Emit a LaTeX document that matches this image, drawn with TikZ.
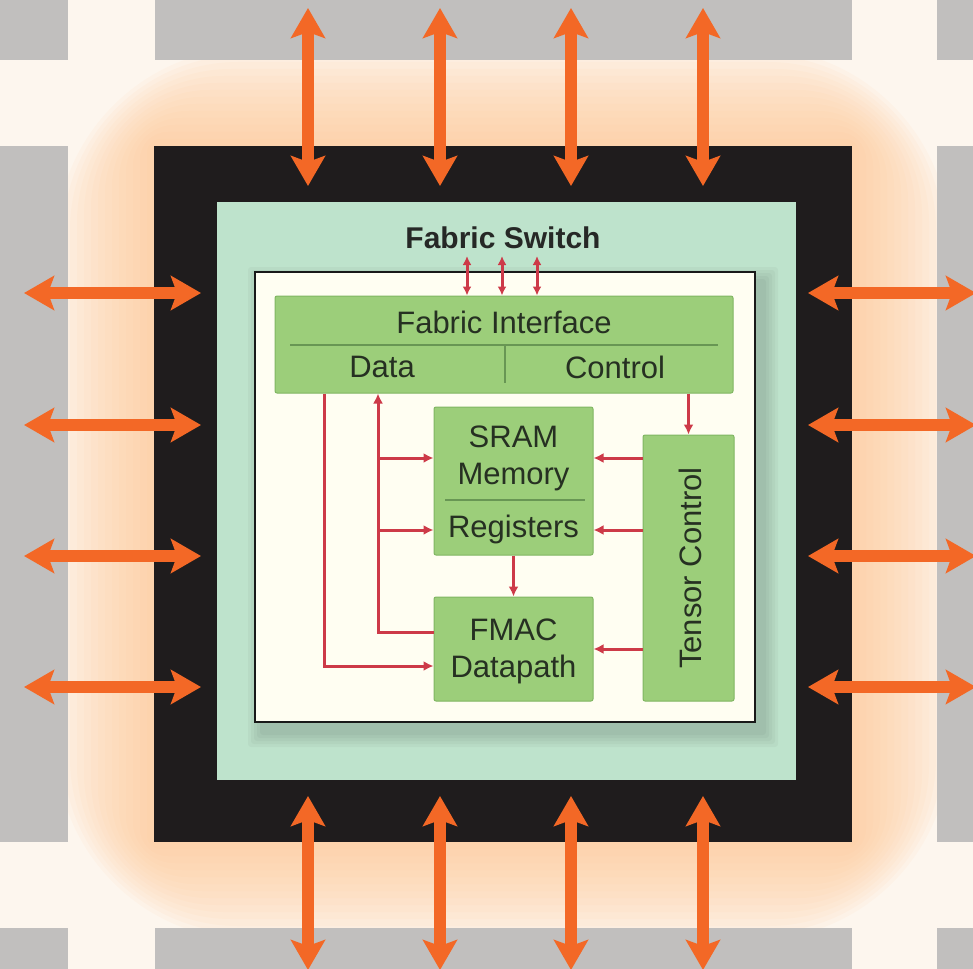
\documentclass[tikz,border=0pt]{standalone}
\usepackage{fontspec}
\setmainfont{Liberation Sans}
\usetikzlibrary{arrows.meta,calc}
\definecolor{bgcream}{RGB}{253,246,238}
\definecolor{glowc}{RGB}{255,200,145}
\definecolor{tilegray}{RGB}{193,191,190}
\definecolor{chipblack}{RGB}{31,28,29}
\definecolor{mint}{RGB}{190,227,204}
\definecolor{panelc}{RGB}{255,254,242}
\definecolor{gfill}{RGB}{156,206,122}
\definecolor{gline}{RGB}{128,182,98}
\definecolor{sepline}{RGB}{104,150,84}
\definecolor{txtc}{RGB}{38,48,34}
\definecolor{redc}{RGB}{205,58,72}
\definecolor{orangec}{RGB}{243,104,38}
\begin{document}
\begin{tikzpicture}[x=1pt,y=-1pt,
  tile/.style={fill=tilegray, draw=none},
  gbox/.style={draw=gline, line width=1pt, fill=gfill, rounded corners=2pt, inner sep=0pt},
  lbl/.style={text=txtc, font=\fontsize{31}{37}\selectfont, inner sep=0pt, align=center},
  rl/.style={draw=redc, line width=3pt, -{Latex[length=10pt,width=10pt]}},
  rlb/.style={draw=redc, line width=3pt, {Latex[length=9pt,width=9pt]}-{Latex[length=9pt,width=9pt]}},
  oarr/.style={draw=orangec, line width=12pt, {Stealth[length=30pt,width=34pt,inset=6pt]}-{Stealth[length=30pt,width=34pt,inset=6pt]}},
  sep/.style={draw=sepline, line width=1.3pt}
]
\useasboundingbox (0,0) rectangle (973,968);
\clip (0,0) rectangle (973,968);
% background
\fill[bgcream] (-5,-5) rectangle (980,975);
% glow
\foreach \i [evaluate=\i as \rr using 14*\i] in {1,...,14}
  \fill[glowc, opacity=0.075, rounded corners=\rr pt] (154-7*\i,146-7*\i) rectangle (852+7*\i,842+7*\i);
% tiles
\fill[tile] (-10,-10) rectangle (68,60);
\fill[tile] (155,-10) rectangle (852,60);
\fill[tile] (937,-10) rectangle (985,60);
\fill[tile] (-10,146) rectangle (68,842);
\fill[tile] (937,146) rectangle (985,842);
\fill[tile] (-10,928) rectangle (68,985);
\fill[tile] (155,928) rectangle (852,985);
\fill[tile] (937,928) rectangle (985,985);
% chip
\node[fill=chipblack, draw=none, inner sep=0pt, minimum width=698pt, minimum height=696pt] (chip) at (503,494) {};
% orange arrows
\foreach \x [count=\k] in {308,440,571,703} {
  \coordinate (tt\k) at (\x,8);
  \coordinate (tb\k) at (\x,186);
  \draw[oarr] (tt\k) -- (tb\k);
  \coordinate (bt\k) at (\x,796);
  \coordinate (bb\k) at (\x,970);
  \draw[oarr] (bt\k) -- (bb\k);
}
\foreach \y [count=\k] in {293,425,556,687} {
  \coordinate (ll\k) at (24,\y);
  \coordinate (lr\k) at (201,\y);
  \draw[oarr] (ll\k) -- (lr\k);
  \coordinate (rl\k) at (808,\y);
  \coordinate (rr\k) at (976,\y);
  \draw[oarr] (rl\k) -- (rr\k);
}
% switch region
\node[fill=mint, draw=none, inner sep=0pt, minimum width=579pt, minimum height=578pt] (switch) at (506.5,491) {};
\node[font=\bfseries\fontsize{30}{36}\selectfont, text={rgb,255:red,38;green,40;blue,38}, inner sep=0pt] (fslbl) at (503,238) {Fabric Switch};
% panel shadow
\foreach \i in {1,...,5}
  \fill[black, opacity=0.03, rounded corners=3pt] (255+8-3*\i,272+10-3*\i) rectangle (755+8+3*\i,722+10+3*\i);
\node[draw={rgb,255:red,25;green,25;blue,25}, line width=2.5pt, fill=panelc, inner sep=0pt, minimum width=500pt, minimum height=450pt] (panel) at (505,497) {};
% fabric interface
\node[gbox, minimum width=458pt, minimum height=97pt] (fi) at (504,344.5) {};
\draw[sep] (290,345) -- (718,345);
\draw[sep] (505,345) -- (505,383);
\node[lbl] (fitxt) at (504,322) {Fabric Interface};
\node[lbl] (data) at (382,367) {Data};
\node[lbl] (ctrl) at (615,367) {Control};
% SRAM / registers
\node[gbox, minimum width=159pt, minimum height=148pt] (sram) at (513.5,481) {};
\draw[sep] (445,500) -- (585,500);
\node[lbl] (sramtxt) at (513.5,458) {SRAM\\Memory};
\node[lbl] (regtxt) at (513.5,529) {Registers};
% FMAC
\node[gbox, minimum width=159pt, minimum height=104pt] (fmac) at (513.5,649) {};
\node[lbl] (fmactxt) at (513.5,651) {FMAC\\Datapath};
% Tensor control
\node[gbox, minimum width=91pt, minimum height=266pt] (tc) at (688.5,568) {};
\node[lbl, rotate=90] (tctxt) at (690,568) {Tensor Control};
% helper coordinates
\coordinate (xa) at (324,0);
\coordinate (xb) at (378,0);
\coordinate (r1) at (0,458);
\coordinate (r2) at (0,530);
\coordinate (r3) at (0,666);
\coordinate (r4) at (0,632);
% red connectors
\draw[rl] (fi.south -| xa) |- (fmac.west |- r3);
\draw[rl] (fmac.west |- r4) -| (fi.south -| xb);
\draw[rl] (xb |- r1) -- (sram.west |- r1);
\draw[rl] (xb |- r2) -- (sram.west |- r2);
\draw[rl] (tc.west |- r1) -- (sram.east |- r1);
\draw[rl] (tc.west |- r2) -- (sram.east |- r2);
\draw[rl] (tc.west |- fmac.east) -- (fmac.east);
\draw[rl] (sram.south) -- (fmac.north);
\draw[rl] (fi.south -| tc.north) -- (tc.north);
\foreach \x [count=\k] in {467,502,537} {
  \coordinate (s\k) at (\x,256);
  \draw[rlb] (fi.north -| s\k) -- (s\k);
}
\end{tikzpicture}
\end{document}
